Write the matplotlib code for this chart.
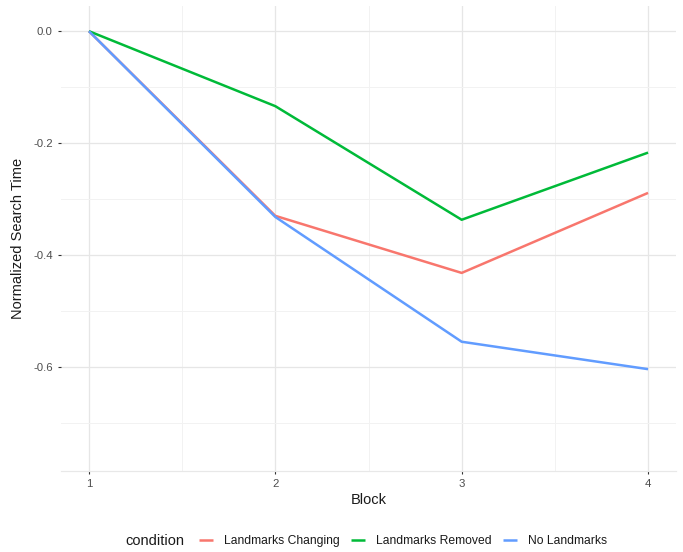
import matplotlib
matplotlib.use("Agg")
import matplotlib.pyplot as plt
from matplotlib.ticker import FixedLocator

plt.rcParams['font.family'] = ['Liberation Sans', 'DejaVu Sans']

# Mean normalized search time per block for each condition
blocks = [1, 2, 3, 4]
conditions = ["Landmarks Changing", "Landmarks Removed", "No Landmarks"]
landmarks_changing = [0.0, -0.330, -0.432, -0.289]
landmarks_removed = [0.0, -0.134, -0.337, -0.217]
no_landmarks = [0.0, -0.332, -0.555, -0.604]
colors = ["#F8766D", "#00BA38", "#619CFF"]

y_ticks = [0.0, -0.2, -0.4, -0.6]
y_tick_labels = ["0.0", "-0.2", "-0.4", "-0.6"]
x_tick_labels = ["1", "2", "3", "4"]

fig = plt.figure(figsize=(6.83, 5.52), dpi=100)
W, H = 683, 552
left, right, top, bottom = 61, 676, 6, 471
ax = fig.add_axes([left / W, 1 - bottom / H, (right - left) / W, (bottom - top) / H])

series = [landmarks_changing, landmarks_removed, no_landmarks]
for name, vals, c in zip(conditions, series, colors):
    ax.plot(blocks, vals, color=c, lw=1.8, label=name, solid_capstyle="butt", zorder=3)

ax.set_xlim(0.85, 4.15)
ax.set_ylim(-0.786, 0.045)

ax.xaxis.set_major_locator(FixedLocator(blocks))
ax.xaxis.set_minor_locator(FixedLocator([1.5, 2.5, 3.5]))
ax.set_xticklabels(x_tick_labels)
ax.yaxis.set_major_locator(FixedLocator(y_ticks))
ax.yaxis.set_minor_locator(FixedLocator([-0.1, -0.3, -0.5, -0.7]))
ax.set_yticklabels(y_tick_labels)

ax.grid(which="major", color="#e6e6e6", lw=0.9, zorder=0)
ax.grid(which="minor", color="#f2f2f2", lw=0.7, zorder=0)
ax.set_axisbelow(True)

for s in ["top", "right", "left"]:
    ax.spines[s].set_visible(False)
ax.spines["bottom"].set_color("#e8e8e8")
ax.spines["bottom"].set_linewidth(0.9)

ax.tick_params(axis="both", which="major", length=2.5, width=0.8, color="#333333",
               labelsize=8.2, labelcolor="#4d4d4d", pad=3.5)
ax.tick_params(axis="both", which="minor", length=0)

ax.set_xlabel("Block", fontsize=10.5, color="#1a1a1a", labelpad=3)
ax.set_ylabel("Normalized Search Time", fontsize=10.5, color="#1a1a1a", labelpad=6)

fig.text(125 / W, 1 - 541 / H, "condition", fontsize=10.5, color="#1a1a1a",
         ha="left", va="center")
handles, labels = ax.get_legend_handles_labels()
fig.legend(handles, labels, loc="center left", bbox_to_anchor=(194 / W, 1 - 541 / H),
           ncol=3, frameon=False, fontsize=8.7, handlelength=1.2, handletextpad=0.9,
           columnspacing=0.9, borderaxespad=0, labelcolor="#1a1a1a")

fig.savefig("out.png", dpi=100)
